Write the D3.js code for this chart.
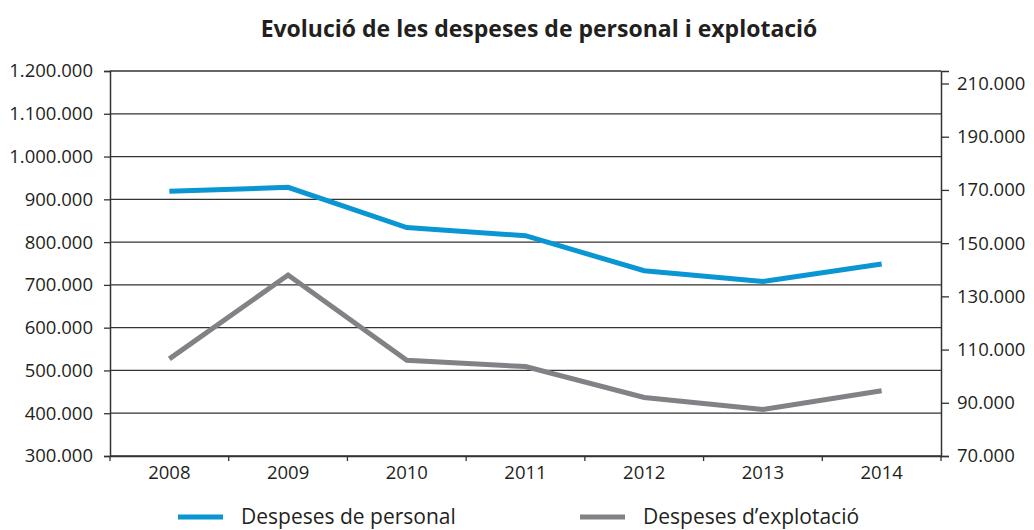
<!DOCTYPE html>
<html lang="ca">
<head>
  <meta charset="UTF-8">
  <title>Evolució de les despeses</title>
  <script src="https://d3js.org/d3.v7.min.js"></script>
  <style>
    body { margin: 0; background: #fff; }
    text { font-family: "Open Sans", sans-serif; fill: #231f20; }
  </style>
</head>
<body>
  <svg id="chart" width="1034" height="530"></svg>
  <script>
    // data
    const years = ['2008', '2009', '2010', '2011', '2012', '2013', '2014'];
    const personal = [919000, 928000, 834000, 815000, 733000, 708000, 749000];
    const explotacio = [106500, 138000, 106000, 103600, 92000, 87500, 94500];
    const leftTicks = [300000, 400000, 500000, 600000, 700000, 800000, 900000, 1000000, 1100000, 1200000];
    const rightTicks = [70000, 90000, 110000, 130000, 150000, 170000, 190000, 210000];
    const seriesNames = ['Despeses de personal', 'Despeses d\u2019explotació'];
    const colors = ['#0a96d2', '#818285'];

    const svg = d3.select('svg#chart');
    const margin = { top: 71, right: 93, bottom: 74, left: 110 };
    const chartWidth = 1034 - margin.left - margin.right;
    const chartHeight = 530 - margin.top - margin.bottom;

    const fmt = d3.formatLocale({ decimal: ',', thousands: '.', grouping: [3], currency: ['', '€'] }).format(',d');

    const xScale = d3.scaleBand().domain(years).range([0, chartWidth]);
    const leftScale = d3.scaleLinear().domain([300000, 1200000]).range([chartHeight, 0]);
    const rightScale = d3.scaleLinear().domain([70000, 214700]).range([chartHeight, 0]);

    const chart = svg.append('g')
      .attr('transform', 'translate(' + margin.left + ',' + margin.top + ')');

    // title
    svg.append('text')
      .attr('x', 539).attr('y', 37)
      .attr('text-anchor', 'middle')
      .style('font-size', '23px')
      .style('font-weight', 'bold')
      .text('Evolució de les despeses de personal i explotació');

    // gridlines
    chart.append('g')
      .selectAll('line')
      .data(leftTicks)
      .join('line')
      .attr('x1', 0).attr('x2', chartWidth)
      .attr('y1', d => leftScale(d)).attr('y2', d => leftScale(d))
      .attr('stroke', '#333').attr('stroke-width', 1.3);

    // left axis
    const leftAxis = chart.append('g')
      .call(d3.axisLeft(leftScale).tickValues(leftTicks).tickFormat(fmt).tickSize(6).tickPadding(11));
    // right axis
    const rightAxis = chart.append('g')
      .attr('transform', 'translate(' + chartWidth + ',0)')
      .call(d3.axisRight(rightScale).tickValues(rightTicks).tickFormat(fmt).tickSize(8).tickSizeOuter(8).tickPadding(8));
    // bottom axis with ticks between categories
    const bottomAxis = chart.append('g')
      .attr('transform', 'translate(0,' + chartHeight + ')')
      .call(d3.axisBottom(xScale).tickSize(0).tickPadding(10));
    bottomAxis.selectAll('.sep')
      .data(d3.range(years.length + 1))
      .join('line')
      .attr('class', 'sep')
      .attr('x1', i => i * xScale.step()).attr('x2', i => i * xScale.step())
      .attr('y1', 0).attr('y2', 5)
      .attr('stroke', '#333').attr('stroke-width', 1.3);

    [leftAxis, rightAxis, bottomAxis].forEach(a => {
      a.select('.domain').attr('stroke', '#333').attr('stroke-width', 1.5);
      a.selectAll('.tick line').attr('stroke', '#333').attr('stroke-width', 1.3);
      a.selectAll('.tick text').style('font-size', '18.5px').attr('fill', '#231f20').style('font-family', '"Open Sans", sans-serif');
    });

    // lines
    const xPos = d => xScale(d) + xScale.bandwidth() / 2;
    const linePersonal = d3.line().x((d, i) => xPos(years[i])).y(d => leftScale(d));
    const lineExpl = d3.line().x((d, i) => xPos(years[i])).y(d => rightScale(d));

    chart.append('path')
      .datum(explotacio)
      .attr('d', lineExpl)
      .attr('fill', 'none')
      .attr('stroke', colors[1]).attr('stroke-width', 5);

    chart.append('path')
      .datum(personal)
      .attr('d', linePersonal)
      .attr('fill', 'none')
      .attr('stroke', colors[0]).attr('stroke-width', 5);

    // legend
    const legendX = [178, 580];
    const legend = svg.append('g');
    seriesNames.forEach((name, i) => {
      legend.append('line')
        .attr('x1', legendX[i]).attr('x2', legendX[i] + 45)
        .attr('y1', 517).attr('y2', 517)
        .attr('stroke', colors[i]).attr('stroke-width', 5);
      legend.append('text')
        .attr('x', legendX[i] + 63).attr('y', 524)
        .style('font-size', '21px')
        .text(name);
    });
  </script>
</body>
</html>
